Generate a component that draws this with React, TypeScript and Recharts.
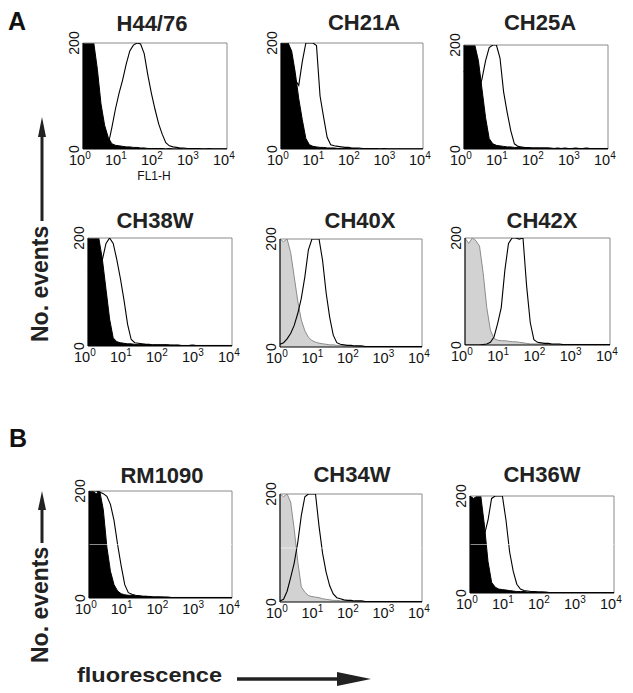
import React from 'react';
import { ComposedChart, Area, Line, XAxis, YAxis, ReferenceLine } from 'recharts';

// log10(fluorescence) bin centres
const LOG_X = [0,0.1,0.2,0.3,0.4,0.5,0.6,0.7,0.8,0.9,1,1.1,1.2,1.3,1.4,1.5,1.6,1.7,1.8,1.9,2,2.1,2.2,2.3,2.4,2.5,2.6,2.7,2.8,2.9,3,3.1,3.2,3.3,3.4,3.5,3.6,3.7,3.8,3.9,4];
const X_TICKS = [0, 1, 2, 3, 4];
const Y_TICKS = [0, 200];

const H44_CTRL = [200,200,200,200,150,85,45,22,10,7, 6,5,4,4,3,3,2,2,1,1, 1,1,1,0,1,0,0,1,0,0, 0,0,1,0,0,0,0,0,0,0, 0];
const H44_TEST = [2,2,2,2,2,2,3,8,40,75, 105,130,160,185,196,200,198,180,140,105, 75,48,28,12,6,4,3,2,2,1, 1,1,1,0,0,1,0,0,0,0, 0];
const CH21A_CTRL = [200,200,200,185,145,95,55,20,8,5, 4,3,3,2,2,2,1,1,1,1, 1,1,0,1,0,0,0,0,0,0, 0,0,0,0,0,0,0,0,0,0, 0];
const CH21A_TEST = [200,200,200,175,130,120,165,200,200,200, 195,100,60,22,8,6,5,4,3,3, 2,2,2,1,1,1,1,1,0,1, 0,0,0,0,0,0,0,0,0,0, 0];
const CH25A_CTRL = [200,200,200,200,170,115,60,20,10,7, 6,5,4,4,3,3,3,2,2,2, 2,2,2,2,2,1,2,1,2,1, 1,2,1,1,2,1,1,1,1,1, 1];
const CH25A_TEST = [150,130,115,105,110,135,170,195,200,200, 175,110,70,35,10,5,4,3,3,2, 2,2,2,2,1,1,1,1,1,1, 1,1,1,1,1,1,1,1,1,1, 1];
const CH38W_CTRL = [200,200,200,200,160,105,50,15,8,6, 5,4,4,3,3,3,3,2,2,2, 2,2,2,2,2,2,1,1,1,2, 1,1,1,1,1,1,1,1,1,1, 1];
const CH38W_TEST = [140,135,130,135,160,190,200,190,160,125, 85,40,12,6,5,4,3,3,2,2, 2,2,2,1,1,1,1,1,1,1, 1,1,1,1,1,1,1,1,1,1, 1];
const CH40X_CTRL = [200,195,200,175,130,85,50,30,18,12, 9,7,6,5,4,4,3,3,2,2, 2,2,1,1,1,1,1,1,1,1, 1,1,1,1,1,1,1,1,1,1, 1];
const CH40X_TEST = [5,8,15,25,40,62,90,130,180,200, 200,200,160,100,55,22,8,5,4,3, 3,2,2,2,1,1,1,1,1,1, 1,1,1,1,1,1,1,1,1,1, 1];
const CH42X_CTRL = [200,190,200,195,185,135,70,28,12,9, 8,8,7,6,6,5,4,3,2,2, 2,2,1,1,1,1,1,1,1,1, 1,1,1,1,1,1,1,1,1,1, 1];
const CH42X_TEST = [0,0,0,0,0,1,2,5,15,40, 70,140,190,200,200,198,200,110,42,10, 5,4,3,3,2,2,2,1,1,1, 1,1,1,1,1,1,1,1,1,1, 1];
const RM1090_CTRL = [200,200,195,200,165,95,50,25,13,8, 6,5,5,4,4,3,3,3,2,2, 2,2,2,1,1,1,1,1,1,1, 1,1,1,1,1,1,1,1,1,1, 1];
const RM1090_TEST = [200,200,200,198,195,190,175,145,100,60, 25,10,7,5,4,3,3,2,2,2, 2,1,1,1,1,1,1,1,1,1, 1,1,1,1,1,1,1,1,1,1, 1];
const CH34W_CTRL = [200,195,200,185,135,75,28,18,12,10, 9,8,6,5,4,3,3,2,2,2, 1,1,1,1,1,1,1,1,1,1, 1,1,1,1,1,1,1,1,1,1, 1];
const CH34W_TEST = [2,5,20,45,72,110,160,195,200,200, 200,140,90,55,30,15,8,6,4,3, 3,2,2,2,1,1,1,1,1,1, 1,1,1,1,1,1,1,1,1,1, 1];
const CH36W_CTRL = [200,195,200,200,140,65,22,12,8,7, 6,5,4,3,3,3,2,2,2,2, 2,1,1,1,1,1,1,1,1,1, 1,1,1,1,1,1,1,1,1,1, 1];
const CH36W_TEST = [200,190,170,150,120,150,195,200,200,200, 150,85,45,18,8,5,4,3,3,2, 2,2,1,1,1,1,1,1,1,1, 1,1,1,1,1,1,1,1,1,1, 1];

const FONT = '"Liberation Sans", Arial, Helvetica, sans-serif';

const PANELS = [
  { title: 'H44/76', ctrl: H44_CTRL, test: H44_TEST, gray: false, left: 83, top: 43, w: 144, h: 106, tx: 152, ty: 31, stripe: false },
  { title: 'CH21A', ctrl: CH21A_CTRL, test: CH21A_TEST, gray: false, left: 281, top: 43, w: 142, h: 106, tx: 364, ty: 30, stripe: false },
  { title: 'CH25A', ctrl: CH25A_CTRL, test: CH25A_TEST, gray: false, left: 464, top: 45, w: 144, h: 104, tx: 540, ty: 30, stripe: false },
  { title: 'CH38W', ctrl: CH38W_CTRL, test: CH38W_TEST, gray: false, left: 88, top: 238, w: 144, h: 108, tx: 155, ty: 228, stripe: false },
  { title: 'CH40X', ctrl: CH40X_CTRL, test: CH40X_TEST, gray: true, left: 280, top: 239, w: 142, h: 108, tx: 360, ty: 228, stripe: false },
  { title: 'CH42X', ctrl: CH42X_CTRL, test: CH42X_TEST, gray: true, left: 465, top: 238, w: 145, h: 107, tx: 542, ty: 228, stripe: false },
  { title: 'RM1090', ctrl: RM1090_CTRL, test: RM1090_TEST, gray: false, left: 89, top: 491, w: 143, h: 107, tx: 162, ty: 483, stripe: true },
  { title: 'CH34W', ctrl: CH34W_CTRL, test: CH34W_TEST, gray: true, left: 280, top: 494, w: 142, h: 108, tx: 352, ty: 482, stripe: true },
  { title: 'CH36W', ctrl: CH36W_CTRL, test: CH36W_TEST, gray: false, left: 470, top: 496, w: 144, h: 97, tx: 542, ty: 482, stripe: true },
];

const XTick = (props: any) => {
  const { x, y, payload } = props;
  return (
    <text x={x - 14} y={y + 8} fontSize={14.5} fontFamily={FONT} fill="#111">
      <tspan>10</tspan>
      <tspan dy={-6} fontSize={10}>{payload.value}</tspan>
    </text>
  );
};

const YTick = (props: any) => {
  const { x, y, payload } = props;
  return (
    <text transform={`translate(${x + 4},${y}) rotate(-90)`} textAnchor="middle" fontSize={14} fontFamily={FONT} fill="#111">
      {payload.value}
    </text>
  );
};

const ML = 40, MT = 20, MB = 30, MR = 10;

function Panel({ p }: { p: any }) {
  const data = LOG_X.map((x, i) => ({ x, c: p.ctrl[i], t: p.test[i] }));
  return (
    <div style={{ position: 'absolute', left: p.left - ML, top: p.top - MT }}>
      <ComposedChart width={p.w + ML + MR} height={p.h + MT + MB} data={data} margin={{ top: MT, right: MR, left: 0, bottom: 0 }}>
        <XAxis type="number" dataKey="x" domain={[0, 4]} ticks={X_TICKS} interval={0} height={MB} tick={<XTick />} tickLine={false} axisLine={{ stroke: '#000', strokeWidth: 1.2 }} />
        <YAxis type="number" domain={[0, 200]} ticks={Y_TICKS} interval={0} width={ML} tick={<YTick />} tickLine={false} axisLine={{ stroke: '#000', strokeWidth: 1.2 }} allowDataOverflow />
        <ReferenceLine y={200} stroke="#8a8a8a" strokeWidth={1} />
        <ReferenceLine x={4} stroke="#8a8a8a" strokeWidth={1} />
        <Area dataKey="c" type="linear" fill={p.gray ? '#d2d2d2' : '#000'} fillOpacity={1} stroke={p.gray ? '#8c8c8c' : '#000'} strokeWidth={1} isAnimationActive={false} dot={false} activeDot={false} />
        <Line dataKey="t" type="linear" stroke="#000" strokeWidth={1.1} dot={false} activeDot={false} isAnimationActive={false} />
        {p.stripe && <ReferenceLine y={100} stroke="#fff" strokeOpacity={0.55} strokeWidth={1} />}
      </ComposedChart>
    </div>
  );
}

export default function App() {
  return (
    <div style={{ position: 'absolute', left: 0, top: 0, width: 633, height: 693, background: '#fff', fontFamily: FONT }}>
      {PANELS.map((p) => <Panel key={p.title} p={p} />)}
      <svg width={633} height={693} style={{ position: 'absolute', left: 0, top: 0, pointerEvents: 'none' }} fontFamily={FONT}>
        <text x={8} y={30} fontSize={25} fontWeight="bold" fill="#111">A</text>
        <text x={9} y={447} fontSize={25} fontWeight="bold" fill="#111">B</text>
        {PANELS.map((p) => (
          <text key={p.title} x={p.tx} y={p.ty} textAnchor="middle" fontSize={22} fontWeight="bold" fill="#222">{p.title}</text>
        ))}
        <text x={154} y={180} textAnchor="middle" fontSize={12} fill="#111">FL1-H</text>
        {/* No. events A */}
        <text transform="translate(48,342) rotate(-90)" fontSize={23} fontWeight="bold" fill="#222">No. events</text>
        <line x1={42} y1={221} x2={42} y2={134} stroke="#222" strokeWidth={3} />
        <polygon points="42,117 38,137 46,137" fill="#222" />
        {/* No. events B */}
        <text transform="translate(48,663) rotate(-90)" fontSize={23} fontWeight="bold" fill="#222">No. events</text>
        <line x1={42} y1={543} x2={42} y2={506} stroke="#222" strokeWidth={3} />
        <polygon points="42,491 38,510 46,510" fill="#222" />
        {/* fluorescence */}
        <text x={77} y={682} fontSize={21} fontWeight="bold" fill="#222" textLength={145} lengthAdjust="spacingAndGlyphs">fluorescence</text>
        <line x1={237} y1={679} x2={340} y2={679} stroke="#222" strokeWidth={3.5} />
        <polygon points="371,679 337,672 337,686" fill="#222" />
      </svg>
    </div>
  );
}
